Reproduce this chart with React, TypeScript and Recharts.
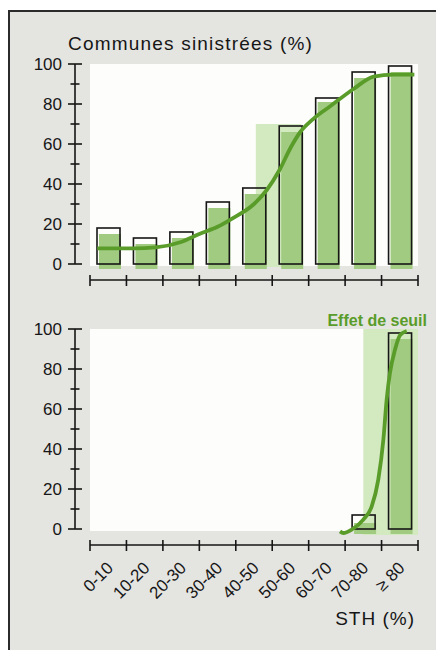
import React from 'react';
import { ComposedChart, Bar, Line, XAxis, YAxis, ReferenceArea } from 'recharts';

// STH classes (%)
const CLASSES = ['0-10', '10-20', '20-30', '30-40', '40-50', '50-60', '60-70', '70-80', '≥ 80'];

// A : communes sinistrées (%) - outline bars and green bars
const BOX_A = [18, 13, 16, 31, 38, 69, 83, 96, 99];
const FILL_A = [15, 10, 13, 28, 35, 66, 81, 93, 96];

// B
const BOX_B = [null, null, null, null, null, null, null, 7, 98];
const FILL_B = [null, null, null, null, null, null, null, 3, 95];

// fitted curves (x in STH %)
const CURVE_A_X = [2, 12, 18, 25, 30, 35, 39, 45, 48.5, 52, 55, 57.7, 61.3, 66, 72.3, 77.8, 83.3, 89];
const CURVE_A_Y = [7.8, 7.8, 8.3, 11, 15, 18.6, 22.7, 30, 37, 47, 58, 66, 72.6, 79, 87.5, 93.7, 94.7, 94.7];
const CURVE_B_X = [68.6, 69.5, 71.8, 75, 77.3, 79.1, 80.5, 81.4, 82.3, 83.7, 85.1, 86.9];
const CURVE_B_Y = [-1.2, -2, -0.3, 4.7, 11.3, 24.7, 44.7, 64.7, 78, 89.7, 97, 99];

const Y_TICKS = [0, 10, 20, 30, 40, 50, 60, 70, 80, 90, 100];
const X_BOUNDS = [0, 10, 20, 30, 40, 50, 60, 70, 80, 90];

const INK = '#161616';
const BG = '#e4e4e1';
const PLOT_BG = '#fdfdfb';
const BAR_GREEN = '#a0cb80';
const BAND = '#d3e9c0';
const CURVE = '#5a9c2a';
const FONT = '"Liberation Sans", Arial, sans-serif';

const rowsA = CLASSES.map((cls, i) => ({ cls, box: BOX_A[i], fill: FILL_A[i] }));
const rowsB = CLASSES.map((cls, i) => ({ cls, box: BOX_B[i], fill: FILL_B[i] }));
const curveA = CURVE_A_X.map((x, i) => ({ x, y: CURVE_A_Y[i] }));
const curveB = CURVE_B_X.map((x, i) => ({ x, y: CURVE_B_Y[i] }));

const ShadowBar = (p: any) => {
  if (p.height == null || p.width == null || p.value == null) return null;
  return <rect x={p.x + 2} y={p.y} width={p.width - 1} height={p.height + 5} fill={BAR_GREEN} />;
};

const OutlineBar = (p: any) => {
  if (p.height == null || p.width == null || p.value == null) return null;
  return <rect x={p.x} y={p.y} width={p.width} height={p.height} fill="none" stroke={INK} strokeWidth={1.6} />;
};

const ValueTick = (p: any) => {
  const v = p.payload.value;
  const major = v % 20 === 0;
  const h = major ? 7 : 4.5;
  return (
    <g>
      <line x1={p.x - h} x2={p.x + h} y1={p.y} y2={p.y} stroke={INK} strokeWidth={1.6} />
      {major && (
        <text x={p.x - 13} y={p.y} dy={6} textAnchor="end" fontSize={17} fill={INK} fontFamily={FONT}>
          {v}
        </text>
      )}
    </g>
  );
};

const BoundTick = (p: any) => (
  <line x1={p.x} x2={p.x} y1={p.y - 5} y2={p.y + 6} stroke={INK} strokeWidth={1.6} />
);

const ClassTick = (p: any) => {
  const x = p.x + 6;
  const y = p.y + 4;
  return (
    <text x={x} y={y} transform={`rotate(-45 ${x} ${y})`} textAnchor="end" fontSize={17} fill={INK} fontFamily={FONT}>
      {p.payload.value}
    </text>
  );
};

const Panel = ({ rows, curve, band, height, showClasses, children }: any) => (
  <ComposedChart width={436} height={height} data={rows} margin={{ top: 64, right: 18, bottom: 0, left: 0 }}>
    <XAxis
      xAxisId="a"
      type="number"
      dataKey="x"
      domain={[0, 90]}
      ticks={X_BOUNDS}
      interval={0}
      allowDataOverflow
      padding={{ left: 15, right: 0 }}
      height={20}
      tickSize={0}
      tickMargin={0}
      tickLine={false}
      tick={<BoundTick />}
      axisLine={{ stroke: INK, strokeWidth: 1.6, strokeDasharray: '0 15 1000' }}
    />
    <XAxis
      xAxisId="b"
      dataKey="cls"
      hide={!showClasses}
      interval={0}
      padding={{ left: 15, right: 0 }}
      height={showClasses ? height - 64 - 216 - 20 : 0}
      axisLine={false}
      tickLine={false}
      tickSize={0}
      tickMargin={0}
      tick={<ClassTick />}
    />
    <XAxis xAxisId="c" dataKey="cls" hide height={0} padding={{ left: 15, right: 0 }} />
    <YAxis
      width={75}
      type="number"
      domain={[-8, 100]}
      allowDataOverflow
      ticks={Y_TICKS}
      interval={0}
      tickSize={0}
      tickMargin={0}
      tickLine={false}
      tick={<ValueTick />}
      axisLine={{ stroke: INK, strokeWidth: 1.6, strokeDasharray: '200 1000' }}
    />
    <ReferenceArea xAxisId="a" x1={0} x2={90} y1={-1} y2={100} fill={PLOT_BG} fillOpacity={1} stroke="none" />
    <ReferenceArea xAxisId="a" x1={band[0]} x2={band[1]} y1={band[2]} y2={band[3]} fill={BAND} fillOpacity={1} stroke="none" />
    <Bar xAxisId="c" dataKey="fill" barSize={23} shape={ShadowBar} isAnimationActive={false} />
    <Bar xAxisId="b" dataKey="box" barSize={23} shape={OutlineBar} isAnimationActive={false} />
    <Line
      xAxisId="a"
      data={curve}
      dataKey="y"
      type="monotone"
      stroke={CURVE}
      strokeWidth={3.8}
      dot={false}
      activeDot={false}
      isAnimationActive={false}
    />
    {children}
  </ComposedChart>
);

export default function App() {
  return (
    <div style={{ position: 'absolute', left: 0, top: 0, width: 436, height: 650, background: '#fff', overflow: 'hidden', fontFamily: FONT }}>
      <div
        style={{
          position: 'absolute', left: 8, top: 10, width: 460, height: 680, background: BG,
          borderLeft: `2px solid #2b2b2b`, borderTop: `2px solid #2b2b2b`,
        }}
      />
      <div style={{ position: 'absolute', left: 0, top: 0 }}>
        <Panel rows={rowsA} curve={curveA} band={[45.5, 58, -1.5, 70]} height={300} showClasses={false}>
          <text x={68} y={50} fontSize={19} letterSpacing={1.2} fill={INK} fontFamily={FONT}>Communes sinistrées (%)</text>
          <text x={125.5} y={108} fontSize={35} fontWeight={900} stroke={INK} strokeWidth={1.8} textAnchor="middle" fill={INK} fontFamily="DejaVu Sans, sans-serif">A</text>
          <text x={278} y={85} fontSize={15} fontWeight={700} textAnchor="middle" fill={CURVE} fontFamily={FONT}>Effet</text>
          <text x={278} y={101} fontSize={15} fontWeight={700} textAnchor="middle" fill={CURVE} fontFamily={FONT}>de</text>
          <text x={278} y={117} fontSize={15} fontWeight={700} textAnchor="middle" fill={CURVE} fontFamily={FONT}>seuil</text>
        </Panel>
      </div>
      <div style={{ position: 'absolute', left: 0, top: 265 }}>
        <Panel rows={rowsB} curve={curveB} band={[75, 90, -3, 100]} height={385} showClasses={true}>
          <text x={124.5} y={107} fontSize={30} fontWeight={900} stroke={INK} strokeWidth={1.6} textAnchor="middle" fill={INK} fontFamily="DejaVu Sans, sans-serif">B</text>
          <text x={427} y={61} fontSize={16} fontWeight={700} textAnchor="end" fill={CURVE} fontFamily={FONT}>Effet de seuil</text>
          <text x={415} y={360} fontSize={19} letterSpacing={1} textAnchor="end" fill={INK} fontFamily={FONT}>STH (%)</text>
        </Panel>
      </div>
    </div>
  );
}
